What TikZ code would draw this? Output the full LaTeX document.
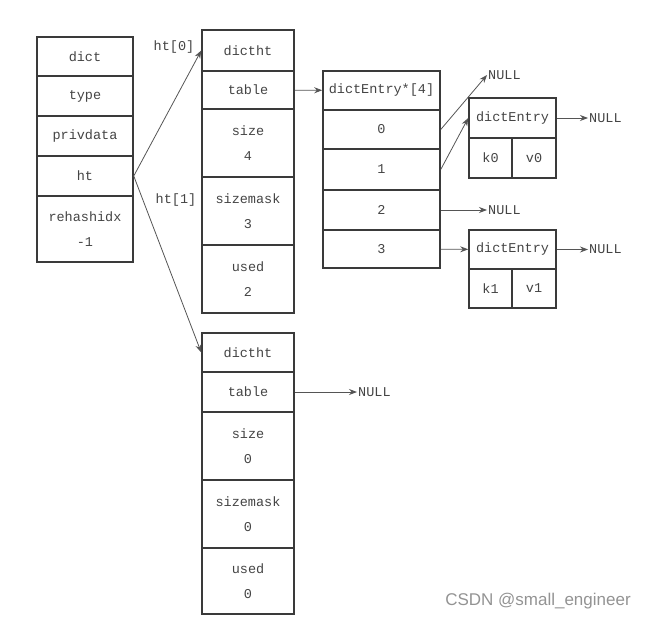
\documentclass[tikz,border=0pt]{standalone}
\usepackage{fontspec}
\usepackage{tikz}
\usetikzlibrary{arrows.meta,positioning,calc}
\newfontfamily\codefont{Liberation Mono}
\newfontfamily\markfont{Liberation Sans}
\definecolor{boxline}{HTML}{3A3A3A}
\definecolor{txt}{HTML}{444444}
\definecolor{wire}{HTML}{555555}

\begin{document}
\begin{tikzpicture}[x=1pt, y=-1pt,
        cell/.style={rectangle, draw=boxline, line width=1.5pt, text=txt, align=center,
            inner sep=0pt, font=\codefont\fontsize{13.5}{25}\selectfont},
        lbl/.style={text=txt, inner sep=1pt, font=\codefont\fontsize{13.5}{25}\selectfont},
        arrow/.style={-{Stealth[length=8pt,width=6pt]}, draw=wire, line width=0.8pt}]
        \useasboundingbox (0,0) rectangle (655,621);

        % dict
        \node[cell, minimum width=96pt, minimum height=39pt] (dict) at (85,56.5) {dict};
        \node[cell, minimum width=96pt, minimum height=40pt] (type) at (85,96) {type};
        \node[cell, minimum width=96pt, minimum height=40pt] (priv) at (85,136) {privdata};
        \node[cell, minimum width=96pt, minimum height=40pt] (ht) at (85,176) {ht};
        \node[cell, minimum width=96pt, minimum height=66pt] (rehash) at (85,229) {rehashidx\\-1};

        % ht[0]
        \node[cell, minimum width=92pt, minimum height=41pt] (h0head) at (248,50.5) {dictht};
        \node[cell, minimum width=92pt, minimum height=38pt] (h0table) at (248,90) {table};
        \node[cell, minimum width=92pt, minimum height=68pt] (h0size) at (248,143) {size\\4};
        \node[cell, minimum width=92pt, minimum height=68pt] (h0mask) at (248,211) {sizemask\\3};
        \node[cell, minimum width=92pt, minimum height=68pt] (h0used) at (248,279) {used\\2};

        % ht[1]
        \node[cell, minimum width=92pt, minimum height=39pt] (h1head) at (248,352.5) {dictht};
        \node[cell, minimum width=92pt, minimum height=40pt] (h1table) at (248,392) {table};
        \node[cell, minimum width=92pt, minimum height=68pt] (h1size) at (248,446) {size\\0};
        \node[cell, minimum width=92pt, minimum height=68pt] (h1mask) at (248,514) {sizemask\\0};
        \node[cell, minimum width=92pt, minimum height=66pt] (h1used) at (248,581) {used\\0};

        % bucket array
        \node[cell, minimum width=117pt, minimum height=39pt] (tab) at (381.5,90.5) {dictEntry*[4]};
        \node[cell, minimum width=117pt, minimum height=39pt] (b0) at (381.5,129.5) {0};
        \node[cell, minimum width=117pt, minimum height=40pt] (b1) at (381.5,169.5) {1};
        \node[cell, minimum width=117pt, minimum height=40pt] (b2) at (381.5,210) {2};
        \node[cell, minimum width=117pt, minimum height=38pt] (b3) at (381.5,249) {3};

        % entries
        \node[cell, minimum width=87pt, minimum height=40pt] (e0) at (512.5,118) {dictEntry};
        \node[cell, minimum width=43pt, minimum height=40pt] (k0) at (490.5,158) {k0};
        \node[cell, minimum width=44pt, minimum height=40pt] (v0) at (534,158) {v0};
        \node[cell, minimum width=87pt, minimum height=39pt] (e1) at (512.5,249.5) {dictEntry};
        \node[cell, minimum width=43pt, minimum height=39pt] (k1) at (490.5,288.5) {k1};
        \node[cell, minimum width=44pt, minimum height=39pt] (v1) at (534,288.5) {v1};

        % NULLs
        \node[lbl, anchor=west] (null0) at (487,75) {NULL};
        \node[lbl, anchor=west] (null2) at (487,210) {NULL};
        \node[lbl, anchor=west] (nulle0) at (588,118) {NULL};
        \node[lbl, anchor=west] (nulle1) at (588,249.5) {NULL};
        \node[lbl, anchor=west] (null1) at (357,392) {NULL};

        % labels
        \node[lbl] (ht0) at (174,47) {ht[0]};
        \node[lbl] (ht1) at (176,200) {ht[1]};

        \draw[arrow] (ht.east) -- (h0head.west);
        \draw[arrow] (ht.east) -- (h1head.west);
        \draw[arrow] (h0table) -- (tab);
        \draw[arrow] (h1table) -- (null1);
        \draw[arrow] (b0.east) -- (null0.west);
        \draw[arrow] (b1.east) -- (e0.west);
        \draw[arrow] (b2) -- (null2);
        \draw[arrow] (b3) -- (e1);
        \draw[arrow] (e0) -- (nulle0);
        \draw[arrow] (e1) -- (nulle1);

        % watermark
        \node[text=gray!85, font=\markfont\fontsize{17}{20}\selectfont] (mark) at (538,601) {CSDN @small\_engineer};
\end{tikzpicture}
\end{document}
